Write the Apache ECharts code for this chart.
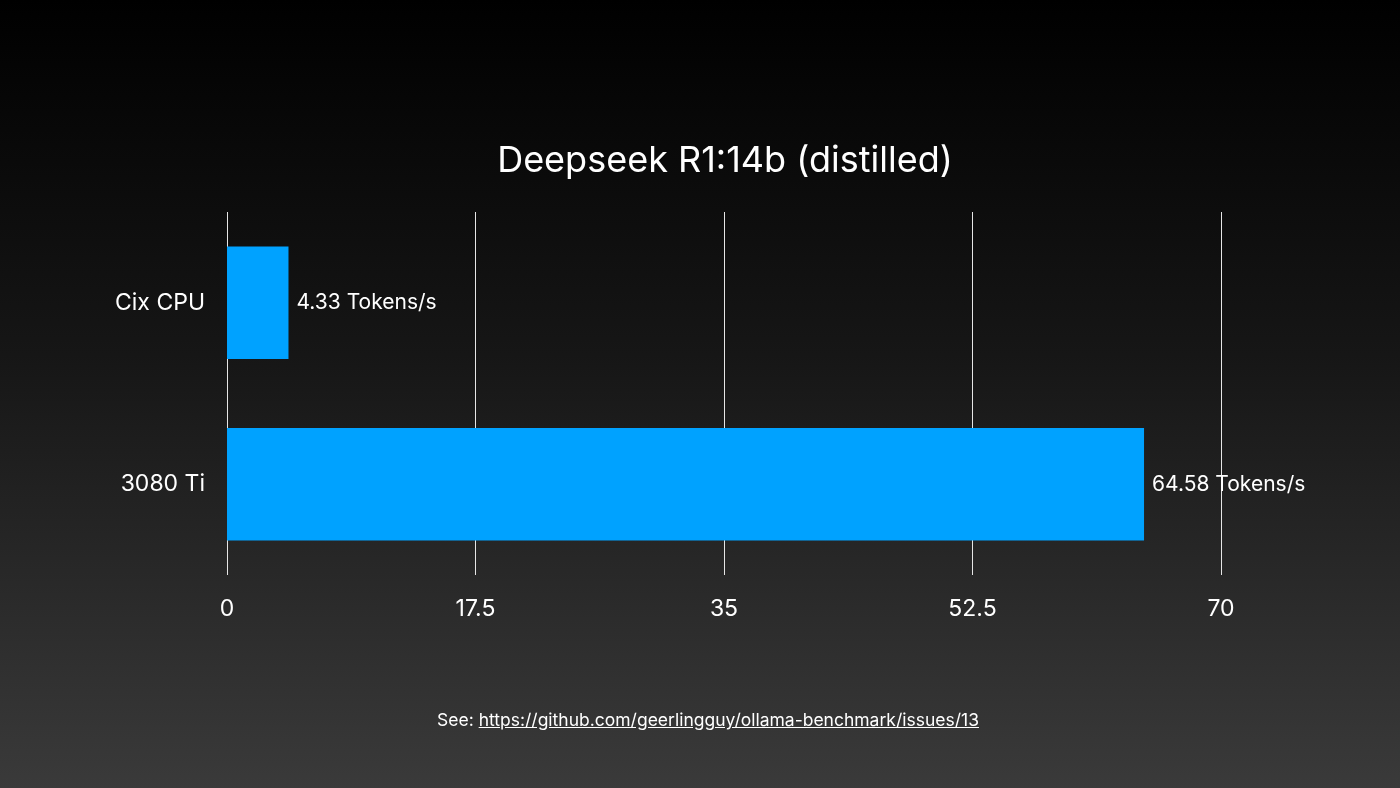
<!DOCTYPE html>
<html lang="en">
<head>
<meta charset="UTF-8">
<title>Deepseek R1:14b (distilled)</title>
<style>
    html, body { margin: 0; padding: 0; }
    body { width: 1400px; height: 788px; background: linear-gradient(to bottom, #000000 0%, #161616 45%, #3a3a3a 100%); position: relative; overflow: hidden; }
    #chart { width: 1400px; height: 788px; }
    .note { position: absolute; top: 709px; left: 0; width: 1416px; text-align: center; color: #fff; font-family: Inter, 'Open Sans', sans-serif; font-size: 17.5px; }
    .note span { text-decoration: underline; }
</style>
</head>
<body>
<div id="chart"></div>
<div class="note">See: <span>https://github.com/geerlingguy/ollama-benchmark/issues/13</span></div>
<script src="https://cdn.jsdelivr.net/npm/echarts/dist/echarts.min.js"></script>
<script>
var categories = ['Cix CPU', '3080 Ti'];
var tokensPerSec = [4.33, 64.58];
var tickMax = 70;
var tickStep = 17.5;

var myChart = echarts.init(document.getElementById('chart'));
var font = 'Inter, "Open Sans", sans-serif';
var option = {
    backgroundColor: 'transparent',
    title: {
        text: 'Deepseek R1:14b (distilled)',
        left: 720,
        textAlign: 'center',
        top: 138,
        textStyle: { color: '#fff', fontSize: 36, fontWeight: 'normal', fontFamily: font }
    },
    grid: { left: 227, right: 179, top: 212, bottom: 213 },
    xAxis: {
        type: 'value',
        min: 0,
        max: tickMax,
        interval: tickStep,
        axisLine: { show: false },
        axisTick: { show: false },
        splitLine: { show: true, lineStyle: { color: '#e6e6e6', width: 1 } },
        axisLabel: { color: '#fff', fontSize: 23, margin: 23, fontFamily: font }
    },
    yAxis: {
        type: 'category',
        data: categories,
        inverse: true,
        axisLine: { show: false },
        axisTick: { show: false },
        axisLabel: { color: '#fff', fontSize: 23, margin: 22, padding: [10, 0, 0, 0], fontFamily: font }
    },
    series: [{
        type: 'bar',
        data: tokensPerSec,
        barCategoryGap: '38%',
        itemStyle: { color: '#00a2ff' },
        label: {
            show: true,
            position: 'right',
            distance: 8,
            color: '#fff',
            fontSize: 21,
            padding: [10, 0, 0, 0],
            fontFamily: font,
            formatter: '{c} Tokens/s'
        }
    }]
};
myChart.setOption(option);
</script>
</body>
</html>
